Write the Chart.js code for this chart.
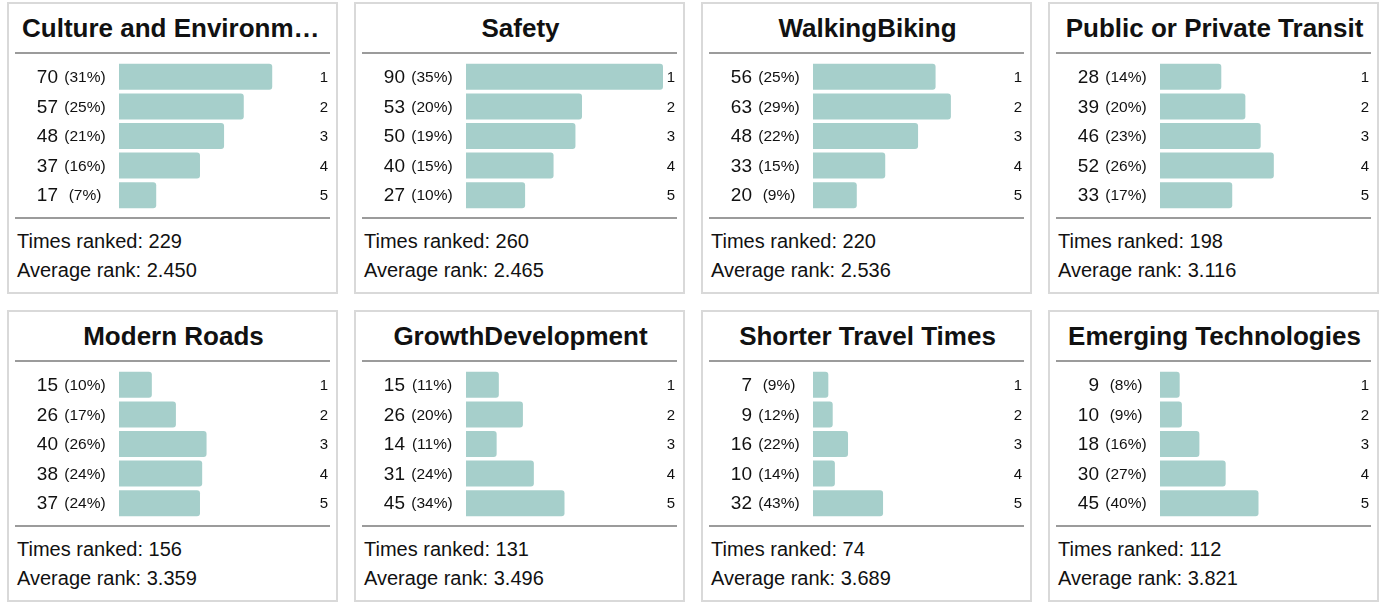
<!DOCTYPE html>
<html>
<head>
<meta charset="utf-8">
<script src="https://cdn.jsdelivr.net/npm/chart.js@4"></script>
<style>
    body { margin: 0; background: #fff; font-family: "Liberation Sans", Arial, sans-serif; color: #111; }
    #wrap { position: relative; width: 1382px; height: 603px; }
    .card { position: absolute; width: 331px; height: 292px; box-shadow: inset 0 0 0 2px #d9d9d9; }
    .title { position: absolute; left: 15px; width: 303px; top: 9px; height: 34px; line-height: 34px;
        font-weight: bold; font-size: 26px; text-align: center; white-space: nowrap; overflow: hidden; text-overflow: ellipsis; }
    .rule { position: absolute; left: 8px; width: 315px; height: 2px; background: #9b9b9b; }
    .stat { position: absolute; left: 10px; font-size: 20px; line-height: 24px; white-space: nowrap; }
    canvas { position: absolute; left: 0; top: 56px; }
</style>
</head>
<body>
<div id="wrap"></div>
<script>
const categories = ['Culture and Environment', 'Safety', 'WalkingBiking', 'Public or Private Transit',
    'Modern Roads', 'GrowthDevelopment', 'Shorter Travel Times', 'Emerging Technologies'];
const ranks = ['1', '2', '3', '4', '5'];

// times each category was put at rank 1..5
const counts = [
    [70, 57, 48, 37, 17],
    [90, 53, 50, 40, 27],
    [56, 63, 48, 33, 20],
    [28, 39, 46, 52, 33],
    [15, 26, 40, 38, 37],
    [15, 26, 14, 31, 45],
    [7, 9, 16, 10, 32],
    [9, 10, 18, 30, 45]
];
const percents = [
    [31, 25, 21, 16, 7],
    [35, 20, 19, 15, 10],
    [25, 29, 22, 15, 9],
    [14, 20, 23, 26, 17],
    [10, 17, 26, 24, 24],
    [11, 20, 11, 24, 34],
    [9, 12, 22, 14, 43],
    [8, 9, 16, 27, 40]
];
const timesRanked = [229, 260, 220, 198, 156, 131, 74, 112];
const averageRank = ['2.450', '2.465', '2.536', '3.116', '3.359', '3.496', '3.689', '3.821'];

const BAR_COLOR = '#a6cfcb';
const CARD_W = 331;
const CARD_LEFT = [7, 354, 701, 1048];
const CARD_TOP = [2, 310];

// draws "70 (31%)" on the left and the rank on the right of every bar
const sideLabels = {
    id: 'sideLabels',
    afterDatasetsDraw(chart) {
        const { ctx, scales } = chart;
        const idx = chart.options.plugins.sideLabels.card;
        ctx.save();
        ctx.fillStyle = '#111';
        ctx.textBaseline = 'middle';
        ranks.forEach((rank, i) => {
            const y = scales.y.getPixelForValue(i);
            ctx.font = '19px "Liberation Sans", Arial, sans-serif';
            ctx.textAlign = 'right';
            ctx.fillText(String(counts[idx][i]), 51, y + 1);
            ctx.font = '15.5px "Liberation Sans", Arial, sans-serif';
            ctx.textAlign = 'center';
            ctx.fillText('(' + percents[idx][i] + '%)', 78, y + 1);
            ctx.font = '15px "Liberation Sans", Arial, sans-serif';
            ctx.textAlign = 'right';
            ctx.fillText(rank, 321, y + 1);
        });
        ctx.restore();
    }
};

const wrap = document.getElementById('wrap');

categories.forEach((name, idx) => {
    const card = document.createElement('div');
    card.className = 'card';
    card.style.left = CARD_LEFT[idx % 4] + 'px';
    card.style.top = CARD_TOP[Math.floor(idx / 4)] + 'px';
    card.innerHTML =
        '<div class="title">' + name + '</div>' +
        '<div class="rule" style="top:50px"></div>' +
        '<div class="rule" style="top:215px"></div>' +
        '<div class="stat" style="top:227px">Times ranked: ' + timesRanked[idx] + '</div>' +
        '<div class="stat" style="top:256px">Average rank: ' + averageRank[idx] + '</div>';
    const canvas = document.createElement('canvas');
    canvas.width = CARD_W;
    canvas.height = 156;
    card.appendChild(canvas);
    wrap.appendChild(card);

    new Chart(canvas, {
        type: 'bar',
        data: {
            labels: ranks,
            datasets: [{
                data: counts[idx],
                backgroundColor: BAR_COLOR,
                borderRadius: 3,
                categoryPercentage: 1,
                barPercentage: 0.88
            }]
        },
        options: {
            indexAxis: 'y',
            responsive: false,
            animation: false,
            layout: { padding: { left: 112, right: 22, top: 4, bottom: 4 } },
            scales: {
                x: { display: false, min: 0, max: 90 },
                y: { display: false }
            },
            plugins: {
                legend: { display: false },
                tooltip: { enabled: false },
                sideLabels: { card: idx }
            }
        },
        plugins: [sideLabels]
    });
});
</script>
</body>
</html>
